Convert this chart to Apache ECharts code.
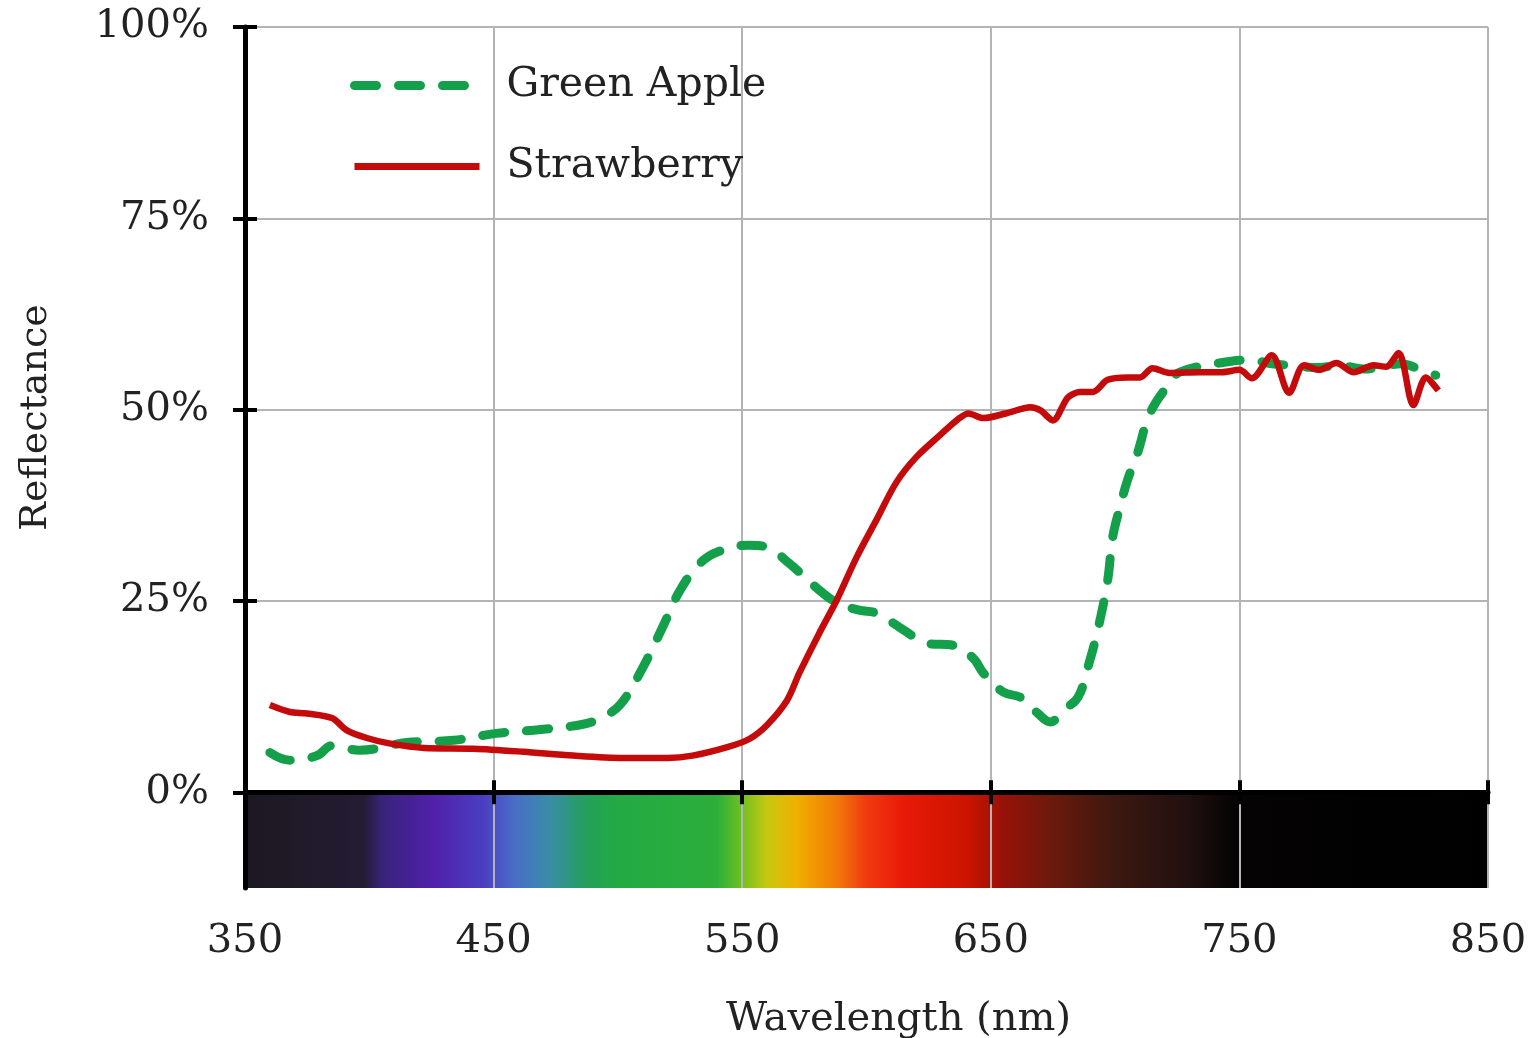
<!DOCTYPE html>
<html>
<head>
<meta charset="utf-8">
<script src="https://cdn.jsdelivr.net/npm/echarts@6/dist/echarts.min.js"></script>
<style>
html, body { margin: 0; padding: 0; background: #fff; }
#main { width: 1538px; height: 1038px; }
</style>
</head>
<body>
<div id="main"></div>
<script>
// reflectance curves (nm, %)
var appleNm = [360, 368, 379, 385, 396, 415, 434, 451, 469, 486, 493, 501, 510, 518, 525, 533, 540, 553, 560, 569,
    580, 588, 597, 604, 615, 624, 635, 643, 647, 655, 662, 669, 674, 679, 685, 689, 693, 697, 699, 702,
    705, 709, 714, 722, 726, 742, 754, 763, 770, 782, 790, 800, 810, 815, 823, 829];
var appleVal = [5.2, 4.2, 4.8, 6.1, 5.5, 6.5, 6.8, 7.7, 8.2, 8.9, 9.7, 11.5, 16.3, 21.6, 26.4, 29.9, 31.4, 32.3, 32.0, 29.9,
    26.7, 24.8, 23.8, 23.4, 21.2, 19.5, 19.2, 17.5, 15.6, 13.1, 12.4, 10.3, 9.2, 10.7, 12.4, 16.3, 21.2, 27.7, 33.3, 37.3,
    40.8, 44.3, 49.5, 53.5, 54.9, 56.1, 56.5, 56.0, 55.8, 55.5, 55.8, 55.3, 55.8, 56.0, 55.2, 54.5];

var strawNm = [360, 368, 375, 385, 391, 399, 408, 422, 442, 462, 482, 502, 520, 530, 544, 553, 560, 568, 573, 581,
    588, 596, 604, 612, 620, 630, 637, 641, 647, 656, 666, 670, 675, 681, 686, 691, 697, 705, 710, 715,
    722, 734, 743, 750, 755, 763, 770, 776, 782, 789, 796, 804, 809, 814, 820, 825, 830];
var strawVal = [11.4, 10.5, 10.3, 9.7, 8.1, 7.1, 6.4, 5.8, 5.7, 5.3, 4.8, 4.5, 4.5, 4.8, 5.9, 7.0, 8.8, 12.0, 15.6, 20.8,
    25.1, 30.7, 35.6, 40.5, 43.8, 46.8, 48.8, 49.5, 48.9, 49.5, 50.3, 49.9, 48.6, 51.6, 52.3, 52.3, 53.9, 54.2, 54.2, 55.4,
    54.8, 54.9, 54.9, 55.2, 54.1, 57.1, 52.2, 55.8, 55.2, 56.1, 54.9, 55.8, 55.6, 57.4, 50.6, 54.2, 52.5];

var xTicks = [350, 450, 550, 650, 750, 850];
var yTicks = [0, 25, 50, 75, 100];

// colour band under the axis
var spectrumStops = [
    [350, '#1c1820'], [398, '#241c34'], [405, '#38247a'], [425, '#5020a8'], [445, '#4a3cc0'],
    [458, '#4a6cc8'], [472, '#3a8ca8'], [488, '#24a058'], [500, '#22aa44'], [540, '#2cae3a'],
    [550, '#70c020'], [560, '#c8c810'], [572, '#f0b000'], [588, '#f07a08'], [600, '#f03a10'],
    [615, '#e81a08'], [640, '#cc1400'], [655, '#961208'], [675, '#6a1a0c'], [700, '#3c1810'],
    [730, '#201010'], [748, '#050303'], [850, '#000000']
];

function pairs(xs, ys) {
    return xs.map(function (x, i) { return [x, ys[i]]; });
}

var chartDom = document.getElementById('main');
var myChart = echarts.init(chartDom);
var font = 'DejaVu Serif';
var option;

option = {
    animation: false,
    textStyle: { fontFamily: font },
    grid: { left: 245, right: 50, top: 27, bottom: 150, outerBoundsMode: 'none' },
    legend: {
        data: [
            { name: 'Green Apple', lineStyle: { width: 9 } },
            { name: 'Strawberry', lineStyle: { width: 7 } }
        ],
        orient: 'vertical',
        left: 345,
        top: 60,
        itemWidth: 125,
        itemHeight: 12,
        itemGap: 40,
        itemStyle: { opacity: 0 },
        textStyle: { fontFamily: font, fontSize: 41, color: '#222', padding: [0, 0, 0, 22] }
    },
    xAxis: [{
        type: 'value',
        min: 350,
        max: 850,
        interval: 50,
        name: 'Wavelength (nm)',
        nameLocation: 'middle',
        nameGap: 112,
        nameTextStyle: { fontFamily: font, fontSize: 40, color: '#222', padding: [0, 0, 0, 64] },
        axisLine: { lineStyle: { color: '#000', width: 5 } },
        axisTick: { customValues: xTicks, length: 12, lineStyle: { color: '#000', width: 4 } },
        axisLabel: { customValues: xTicks, fontFamily: font, fontSize: 40, color: '#222', margin: 34 },
        splitLine: { lineStyle: { color: '#b4b4b4', width: 2 } }
    }, {
        // inner half of the crossing ticks
        type: 'value',
        min: 350,
        max: 850,
        position: 'bottom',
        axisLine: { show: false },
        axisTick: { inside: true, customValues: xTicks, length: 12, lineStyle: { color: '#000', width: 4 } },
        axisLabel: { show: false },
        splitLine: { show: false }
    }],
    yAxis: [{
        type: 'value',
        min: -12.5,
        max: 100,
        interval: 12.5,
        name: 'Reflectance',
        nameLocation: 'middle',
        nameGap: 190,
        nameTextStyle: { fontFamily: font, fontSize: 38, color: '#222', padding: [0, 0, 0, 80] },
        axisLine: { lineStyle: { color: '#000', width: 5 } },
        axisTick: { customValues: yTicks, length: 12, lineStyle: { color: '#000', width: 4 } },
        axisLabel: { customValues: yTicks, formatter: '{value}%', fontFamily: font, fontSize: 40, color: '#222', margin: 36 },
        splitLine: { lineStyle: { color: '#b4b4b4', width: 2 } }
    }, {
        type: 'value',
        min: -12.5,
        max: 100,
        position: 'left',
        axisLine: { show: false },
        axisTick: { inside: true, customValues: yTicks, length: 12, lineStyle: { color: '#000', width: 4 } },
        axisLabel: { show: false },
        splitLine: { show: false }
    }],
    series: [
        {
            type: 'custom',
            name: 'spectrum',
            silent: true,
            z: -1,
            data: [[350, 850]],
            encode: { x: [0, 1] },
            renderItem: function (params, api) {
                var p0 = api.coord([api.value(0), 0]);
                var p1 = api.coord([api.value(1), -12.5]);
                var a = spectrumStops[0][0];
                var b = spectrumStops[spectrumStops.length - 1][0];
                var stops = spectrumStops.map(function (s) {
                    return { offset: (s[0] - a) / (b - a), color: s[1] };
                });
                return {
                    type: 'rect',
                    shape: { x: p0[0], y: p0[1], width: p1[0] - p0[0], height: p1[1] - p0[1] },
                    style: { fill: new echarts.graphic.LinearGradient(0, 0, 1, 0, stops) }
                };
            }
        },
        {
            name: 'Green Apple',
            type: 'line',
            data: pairs(appleNm, appleVal),
            showSymbol: false,
            symbol: 'none',
            smooth: 0.4,
            color: '#14a04a',
            lineStyle: { color: '#14a04a', width: 9, type: [22, 22], cap: 'round' }
        },
        {
            name: 'Strawberry',
            type: 'line',
            data: pairs(strawNm, strawVal),
            showSymbol: false,
            symbol: 'none',
            smooth: 0.3,
            color: '#c40a0a',
            lineStyle: { color: '#c40a0a', width: 6.5 }
        }
    ]
};

option && myChart.setOption(option);
</script>
</body>
</html>
